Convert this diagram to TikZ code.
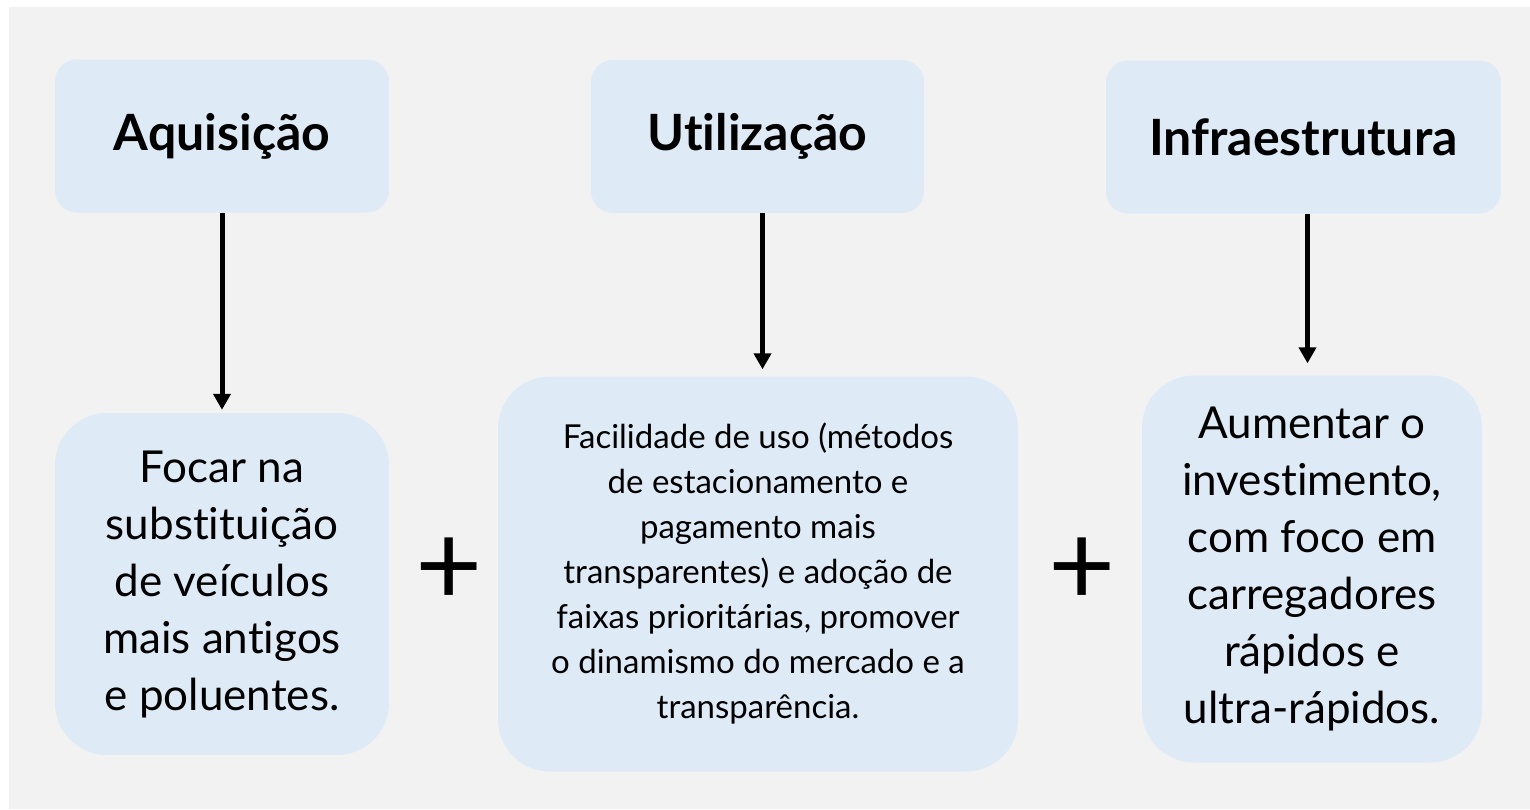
\documentclass[tikz,border=0pt]{standalone}
\usepackage{fontspec}
\setmainfont{Lato}[Ligatures=NoCommon]
\usetikzlibrary{arrows.meta}
\definecolor{boxblue}{HTML}{DEEBF7}
\definecolor{bggray}{HTML}{F2F2F2}
\begin{document}
\begin{tikzpicture}[x=1pt,y=-1pt,line join=round,>={Triangle[length=16pt,width=17pt]},
		topbox/.style={fill=boxblue,rounded corners=22pt,inner sep=0pt,minimum height=153pt,font=\fontsize{50}{60}\selectfont\bfseries},
		lowbox/.style={fill=boxblue,rounded corners=52pt,inner sep=0pt,align=center,font=\fontsize{44}{57}\selectfont},
		arr/.style={->,line width=5pt,shorten >=#1},
		plus/.style={inner sep=0pt,font=\fontsize{116}{116}\selectfont}]
	\useasboundingbox (0,0) rectangle (1530,809);
	\fill[bggray] (9,7) rectangle (1530,809);
	% upper row
	\node[topbox,minimum width=334pt] (aq) at (222,136) {Aquisição};
	\node[topbox,minimum width=333pt] (ut) at (757.5,136.5) {Utilização};
	\node[topbox,minimum width=395pt] (inf) at (1303.5,137) {Infraestrutura};
	% lower row
	\node[lowbox,minimum width=334pt,minimum height=342pt] (foc) at (222,584)
		{Focar na\\substituição\\de veículos\\mais antigos\\e poluentes.};
	\node[lowbox,minimum width=520pt,minimum height=395pt,font=\fontsize{33}{45}\selectfont] (fac) at (758,574)
		{Facilidade de uso (métodos\\de estacionamento e\\pagamento mais\\transparentes) e adoção de\\faixas prioritárias, promover\\o dinamismo do mercado e a\\transparência.};
	\node[lowbox,minimum width=340pt,minimum height=387pt] (aum) at (1312,569)
		{Aumentar o\\investimento,\\com foco em\\carregadores\\rápidos e\\ultra-rápidos.};
	\node[plus] (p1) at (449,572) {+};
	\node[plus] (p2) at (1082,572) {+};
	% arrows
	\draw[arr=3pt] (aq.south) -- (aq.south |- foc.north);
	\draw[arr=7pt] ([xshift=5pt]ut.south) -- ([xshift=5pt]ut.south |- fac.north);
	\draw[arr=12pt] ([xshift=4pt]inf.south) -- ([xshift=4pt]inf.south |- aum.north);
\end{tikzpicture}
\end{document}
